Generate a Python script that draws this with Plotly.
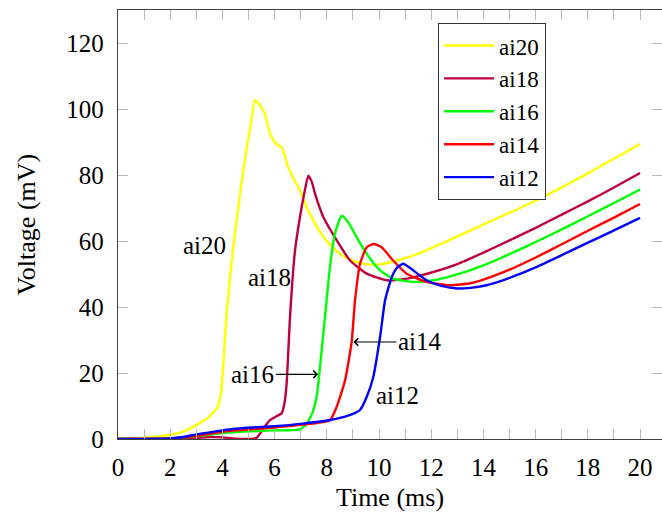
import plotly.graph_objects as go

# ---- data ----
t20 = [0, 1, 2, 2.5, 3, 3.5, 3.8, 3.95, 4.16, 4.41, 4.74, 4.93, 5.1, 5.25, 5.4, 5.63, 5.82,
       6.05, 6.27, 6.4, 6.52, 6.72, 6.97, 7.23, 7.5, 7.87, 8.2, 8.5, 9.0, 9.5, 10, 10.7,
       11.5, 12.5, 14, 16, 18, 20]
v20 = [0, 0.4, 1.2, 2.2, 4.2, 6.8, 9.5, 14, 38, 58, 78, 88, 96, 102.7, 101.5, 98.5, 92.5,
       89.5, 88.4, 85.5, 82.3, 79, 75.3, 70.2, 66, 61.2, 58.3, 56.1, 54.0, 53.0, 52.9, 54.1,
       56.2, 59.6, 65, 72.2, 80.5, 89.4]

t18 = [0, 2, 3, 3.5, 4, 4.5, 5.0, 5.3, 5.6, 5.82, 6.1, 6.27, 6.38, 6.46, 6.59, 6.78, 6.97,
       7.15, 7.29, 7.42, 7.55, 7.87, 8.38, 8.89, 9.53, 10.29, 11.06, 12.08, 13, 14, 15, 16, 17, 18, 19, 20]
v18 = [0, 0, 0.3, 0.6, 0.5, 0.1, 0, 0.3, 3.5, 5.7, 7, 7.8, 11, 16.8, 37, 57, 67.2,
       75, 79.8, 78, 74.3, 67.2, 60.2, 54.1, 50.1, 48.1, 48.6, 50.6, 53, 56.5, 60.2, 64, 68, 72, 76.2, 80.6]

t16 = [0, 1, 2, 3, 4, 5, 6, 6.97, 7.23, 7.45, 7.61, 7.74, 7.93, 8.12, 8.31, 8.57, 8.82, 9.14,
       9.53, 10.04, 10.54, 11.31, 12.08, 12.72, 13.5, 14, 15, 16, 17, 18, 19, 20]
v16 = [0, 0, 0.2, 0.8, 1.8, 2.3, 2.6, 2.9, 4.7, 8, 12.8, 21.9, 37, 52.1, 62.2, 67.7, 65.7, 61.2,
       56.1, 51.1, 48.6, 47.6, 48.1, 49.3, 51.2, 52.6, 56, 59.7, 63.5, 67.5, 71.5, 75.6]

t14 = [0, 2, 3, 4, 5, 6, 7, 8.12, 8.38, 8.7, 8.95, 9.08, 9.27, 9.53, 9.78, 10.1, 10.54, 11.06,
       11.82, 12.72, 13.5, 14, 15, 16, 17, 18, 19, 20]
v14 = [0, 0.2, 0.9, 2.2, 2.9, 3.5, 4.3, 5.7, 9.8, 17.8, 29.4, 42, 53.1, 58.1, 59.1, 58.1, 54.1, 50.1,
       47.6, 46.6, 47.2, 48.3, 51.3, 55, 59, 63.1, 67.1, 71.2]

t12 = [0, 2, 2.5, 3, 3.5, 4, 4.5, 5, 6, 7, 8, 8.7, 9.0, 9.27, 9.53, 9.78, 10.04, 10.23, 10.49,
       10.7, 10.93, 11.31, 11.82, 12.4, 13, 13.5, 14.12, 14.6, 15, 16, 17, 18, 19, 20]
v12 = [0, 0.2, 0.6, 1.4, 2.0, 2.6, 3.1, 3.4, 3.9, 4.6, 5.6, 6.8, 7.6, 8.8, 12.8, 18.8, 30.9, 42, 49.1,
       52, 53.1, 51.1, 48.1, 46.4, 45.6, 45.8, 46.6, 47.7, 48.8, 52, 55.7, 59.5, 63.2, 67]

names = ["ai20", "ai18", "ai16", "ai14", "ai12"]
colors = ["#FFFF00", "#BF0040", "#00FF00", "#FF0000", "#0000FF"]
series_t = [t20, t18, t16, t14, t12]
series_v = [v20, v18, v16, v14, v12]

xtick_vals = list(range(0, 21))
xtick_text = [str(v) if v % 2 == 0 else "" for v in xtick_vals]
ytick_vals = list(range(0, 121, 20))

FONT = "Liberation Serif"

fig = go.Figure()
for name, col, tt, vv in zip(names, colors, series_t, series_v):
    fig.add_trace(go.Scatter(x=tt, y=vv, mode="lines", name=name, legendgroup=name,
                             line=dict(color=col, width=2.4, shape="spline", smoothing=0.5)))

# labels
lab_font = dict(size=25, family=FONT, color="black")
fig.add_annotation(x=3.33, y=58.6, text="ai20", showarrow=False, font=lab_font)
fig.add_annotation(x=5.79, y=49, text="ai18", showarrow=False, font=lab_font)
fig.add_annotation(x=10.69, y=13.3, text="ai12", showarrow=False, font=lab_font)
fig.add_annotation(x=7.67, y=19.6, ax=5.17, ay=19.6, axref="x", ayref="y", text="ai16",
                   showarrow=True, arrowhead=4, arrowsize=1.2, arrowwidth=1.2,
                   arrowcolor="black", standoff=0, font=lab_font)
fig.add_annotation(x=9.02, y=29.4, ax=11.57, ay=29.4, axref="x", ayref="y", text="ai14",
                   showarrow=True, arrowhead=4, arrowsize=1.2, arrowwidth=1.2,
                   arrowcolor="black", standoff=0, font=lab_font)
# y-axis title
fig.add_annotation(x=-0.169, y=0.5, xref="paper", yref="paper", text="Voltage (mV)",
                   textangle=-90, showarrow=False, xanchor="center", yanchor="middle",
                   font=dict(size=26, family=FONT, color="black"))

axis_common = dict(showline=True, linecolor="#404040", linewidth=1.3, mirror="allticks",
                   ticks="inside", ticklen=10, tickcolor="#BBBBBB", tickwidth=1,
                   showgrid=False, zeroline=False,
                   tickfont=dict(size=25, color="black", family=FONT))

fig.update_xaxes(range=[0, 20.84], tickvals=xtick_vals, ticktext=xtick_text,
                 title=dict(text="Time (ms)", font=dict(size=26, family=FONT), standoff=7),
                 ticklabelstandoff=6, **axis_common)
fig.update_yaxes(range=[0, 130], tickvals=ytick_vals,
                 ticklabelstandoff=8, **axis_common)

fig.update_layout(
    width=662, height=517,
    margin=dict(l=118, r=0, t=10, b=78, autoexpand=False),
    paper_bgcolor="white", plot_bgcolor="white",
    font=dict(family=FONT, color="black"),
    showlegend=True,
    legend=dict(x=0.588, y=0.97, xanchor="left", yanchor="top",
                bordercolor="#333333", borderwidth=1.2, bgcolor="white",
                font=dict(size=23, family=FONT), tracegroupgap=0, traceorder="normal",
                itemwidth=50),
)

fig.write_html("out.html", config={"displayModeBar": False},
               post_script="document.body.style.margin='0';document.body.style.overflow='hidden';")
